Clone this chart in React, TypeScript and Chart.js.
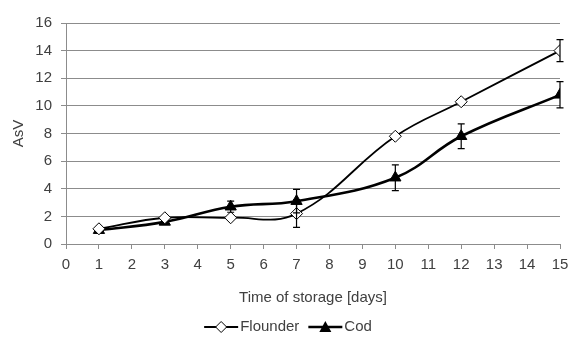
import React, { useEffect, useRef } from "react";
import { Chart, registerables } from "chart.js";

Chart.register(...registerables);

const days = [1, 3, 5, 7, 10, 12, 15];
const flounder = [1.1, 1.9, 1.9, 2.2, 7.8, 10.3, 14.0];
const flounderErr = [0.15, 0.1, 0.15, 1.0, 0.15, 0.15, 0.8];
const cod = [1.0, 1.6, 2.7, 3.1, 4.8, 7.8, 10.8];
const codErr = [0.1, 0.1, 0.4, 0.85, 0.93, 0.9, 0.95];
const xTicks = [0, 1, 2, 3, 4, 5, 6, 7, 8, 9, 10, 11, 12, 13, 14, 15];
const yTicks = [0, 2, 4, 6, 8, 10, 12, 14, 16];
const seriesNames = ["Flounder", "Cod"];

const FONT = "'Liberation Sans', Arial, sans-serif";
const TEXT = "#404040";
const GRID = "#8c8c8c";
const FS = 15;

const errorBars = {
  id: "errorBars",
  afterDatasetsDraw(chart: any) {
    const ctx = chart.ctx;
    const xs = chart.scales.x;
    const ys = chart.scales.y;
    ctx.save();
    ctx.strokeStyle = "#000";
    ctx.lineWidth = 1.2;
    chart.data.datasets.forEach((ds: any) => {
      const errs: number[] = ds.errors || [];
      ds.data.forEach((p: any, i: number) => {
        const e = errs[i];
        if (!e || e < 0.3) return;
        const x = xs.getPixelForValue(p.x);
        const yt = ys.getPixelForValue(p.y + e);
        const yb = ys.getPixelForValue(p.y - e);
        ctx.beginPath();
        ctx.moveTo(x, yt);
        ctx.lineTo(x, yb);
        ctx.moveTo(x - 3.5, yt);
        ctx.lineTo(x + 3.5, yt);
        ctx.moveTo(x - 3.5, yb);
        ctx.lineTo(x + 3.5, yb);
        ctx.stroke();
      });
    });
    ctx.restore();
  },
};

const customLegend = {
  id: "customLegend",
  afterDraw(chart: any) {
    const ctx = chart.ctx;
    const y = 327;
    const iconW = 34;
    const gapText = 2;
    const gapItem = 9;
    ctx.save();
    ctx.font = `${FS}px ${FONT}`;
    const widths = chart.data.datasets.map((ds: any) => ctx.measureText(ds.label).width);
    const total = widths.reduce((a: number, w: number) => a + iconW + gapText + w, 0) + gapItem;
    let x = 288 - total / 2;
    chart.data.datasets.forEach((ds: any, i: number) => {
      ctx.strokeStyle = "#000";
      ctx.lineWidth = ds.borderWidth;
      ctx.beginPath();
      ctx.moveTo(x, y);
      ctx.lineTo(x + iconW, y);
      ctx.stroke();
      const cx = x + iconW / 2;
      ctx.beginPath();
      if (ds.pointStyle === "rectRot") {
        ctx.lineWidth = 1;
        ctx.moveTo(cx, y - 5.5);
        ctx.lineTo(cx + 5.5, y);
        ctx.lineTo(cx, y + 5.5);
        ctx.lineTo(cx - 5.5, y);
        ctx.closePath();
        ctx.fillStyle = "#fff";
        ctx.fill();
        ctx.stroke();
      } else {
        ctx.moveTo(cx, y - 6);
        ctx.lineTo(cx + 6, y + 5);
        ctx.lineTo(cx - 6, y + 5);
        ctx.closePath();
        ctx.fillStyle = "#000";
        ctx.fill();
      }
      ctx.fillStyle = TEXT;
      ctx.textBaseline = "middle";
      ctx.textAlign = "left";
      ctx.fillText(ds.label, x + iconW + gapText, y);
      x += iconW + gapText + widths[i] + gapItem;
    });
    ctx.restore();
  },
};

export default function App() {
  const ref = useRef<HTMLCanvasElement>(null);
  useEffect(() => {
    document.body.style.margin = "0";
    const chart = new Chart(ref.current!, {
      type: "line",
      data: {
        datasets: [
          {
            label: seriesNames[0],
            data: days.map((d, i) => ({ x: d, y: flounder[i] })),
            errors: flounderErr,
            borderColor: "#000",
            borderWidth: 1.8,
            tension: 0.4,
            pointStyle: "rectRot",
            pointRadius: 6,
            pointBackgroundColor: "#fff",
            pointBorderColor: "#000",
            pointBorderWidth: 1,
          } as any,
          {
            label: seriesNames[1],
            data: days.map((d, i) => ({ x: d, y: cod[i] })),
            errors: codErr,
            borderColor: "#000",
            borderWidth: 2.6,
            tension: 0.4,
            pointStyle: "triangle",
            pointRadius: 6.5,
            pointBackgroundColor: "#000",
            pointBorderColor: "#000",
            pointBorderWidth: 1,
          } as any,
        ],
      },
      options: {
        animation: false,
        responsive: false,
        layout: { padding: { top: 23, right: 9, left: 0, bottom: 29 } },
        plugins: {
          tooltip: { enabled: false },
          legend: { display: false },
        },
        scales: {
          x: {
            type: "linear",
            min: 0,
            max: 15,
            afterBuildTicks: (s: any) => {
              s.ticks = xTicks.map((v) => ({ value: v }));
            },
            afterFit: (s: any) => {
              s.height = 65;
              s.paddingRight = 0;
              s.paddingLeft = 0;
            },
            ticks: {
              color: TEXT,
              font: { family: FONT, size: FS },
              padding: 7,
              maxRotation: 0,
              autoSkip: false,
            },
            grid: {
              drawOnChartArea: false,
              drawTicks: true,
              tickLength: 5,
              color: GRID,
            },
            border: { color: GRID, width: 1 },
            title: {
              display: true,
              text: "Time of storage [days]",
              color: TEXT,
              font: { family: FONT, size: FS },
              padding: { top: 4, bottom: 2 },
            },
          },
          y: {
            type: "linear",
            min: 0,
            max: 16,
            afterBuildTicks: (s: any) => {
              s.ticks = yTicks.map((v) => ({ value: v }));
            },
            afterFit: (s: any) => {
              s.width = 66;
            },
            ticks: {
              color: TEXT,
              font: { family: FONT, size: FS },
              padding: 9,
            },
            grid: {
              color: GRID,
              tickLength: 5,
              lineWidth: 1,
            },
            border: { color: GRID, width: 1 },
            title: {
              display: true,
              text: "AsV",
              color: TEXT,
              font: { family: FONT, size: FS },
              padding: { top: 10, bottom: 4 },
            },
          },
        },
      },
      plugins: [errorBars, customLegend],
    } as any);
    return () => chart.destroy();
  }, []);
  return <canvas ref={ref} width={569} height={338} style={{ display: "block" }} />;
}
